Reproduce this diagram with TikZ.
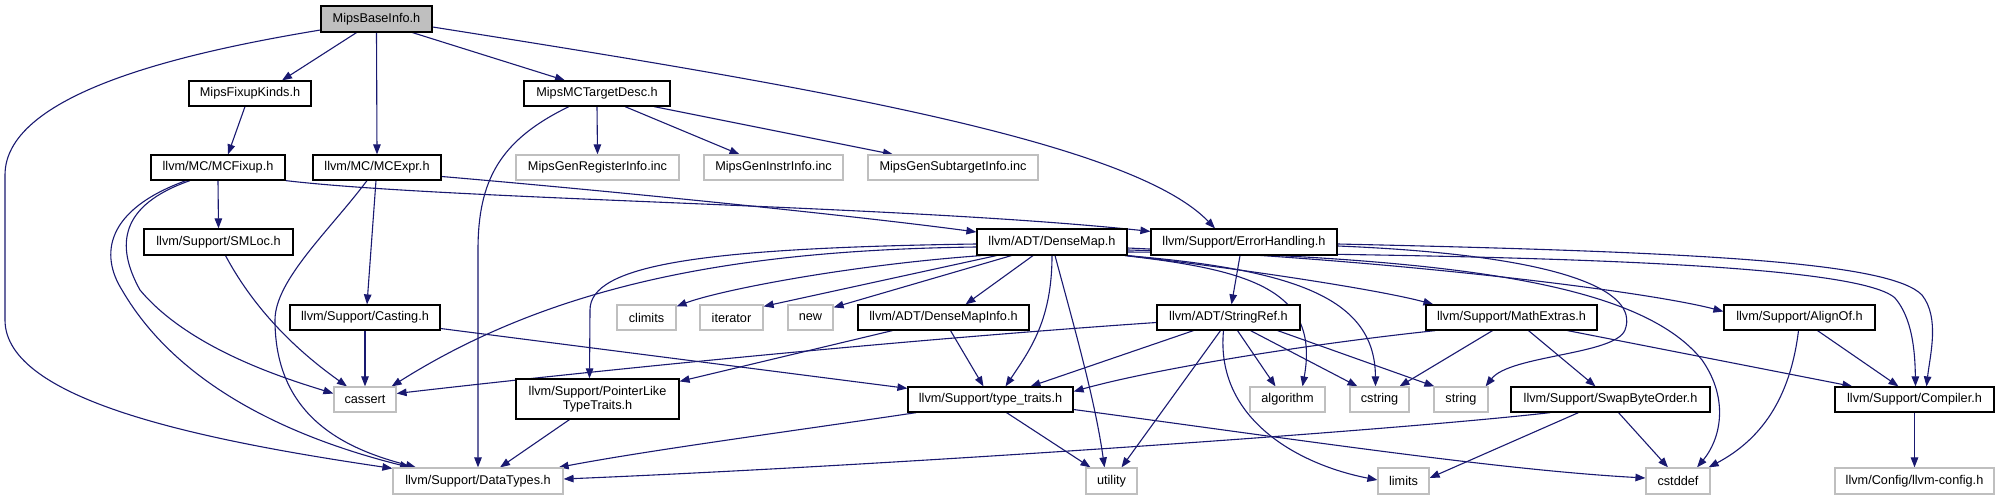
\documentclass[tikz,border=0pt]{standalone}
\usepackage{fontspec}
\setmainfont{Liberation Sans}
\usetikzlibrary{arrows.meta,calc}
\definecolor{edgec}{HTML}{191970}
\definecolor{grayb}{HTML}{BFBFBF}
\pgfdeclarelayer{edges}
\pgfsetlayers{edges,main}
\tikzset{
  nb/.style={draw=black,line width=1.2pt,fill=white,inner sep=0pt,minimum height=25pt,font=\fontsize{12.7}{14}\selectfont},
  nx/.style={nb,draw=grayb},
  nroot/.style={nb,fill=grayb,draw=black},
  e/.style={draw=edgec,line width=1.1pt,-{Triangle[length=10pt,width=7.5pt]}}
}
\begin{document}
\begin{tikzpicture}[x=1pt,y=-1pt]
\useasboundingbox (0,0) rectangle (2000,500);
% rank 0
\node[nroot,minimum width=111pt,minimum height=26pt] (base) at (376.5,19) {MipsBaseInfo.h};
% rank 1
\node[nb,minimum width=122pt] (fixk) at (250,93.5) {MipsFixupKinds.h};
\node[nb,minimum width=146pt] (mctd) at (597,93.5) {MipsMCTargetDesc.h};
% rank 2
\node[nb,minimum width=134pt] (mcfix) at (218,167.5) {llvm/MC/MCFixup.h};
\node[nb,minimum width=128pt] (mcexpr) at (377,167.5) {llvm/MC/MCExpr.h};
\node[nx,minimum width=163pt] (regi) at (597.5,167.5) {MipsGenRegisterInfo.inc};
\node[nx,minimum width=139pt] (instr) at (773.5,167.5) {MipsGenInstrInfo.inc};
\node[nx,minimum width=170pt] (subt) at (953,167.5) {MipsGenSubtargetInfo.inc};
% rank 3
\node[nb,minimum width=149pt,minimum height=26pt] (smloc) at (218.5,242) {llvm/Support/SMLoc.h};
\node[nb,minimum width=150pt,minimum height=26pt] (dmap) at (1052,242) {llvm/ADT/DenseMap.h};
\node[nb,minimum width=186pt,minimum height=26pt] (errh) at (1244,242) {llvm/Support/ErrorHandling.h};
% rank 4
\node[nb,minimum width=150pt] (cast) at (365,317.5) {llvm/Support/Casting.h};
\node[nx,minimum width=59pt] (climits) at (646.5,317.5) {climits};
\node[nx,minimum width=63pt] (iter) at (731.5,317.5) {iterator};
\node[nx,minimum width=45pt] (new) at (810.5,317.5) {new};
\node[nb,minimum width=171pt] (dmi) at (943.5,317.5) {llvm/ADT/DenseMapInfo.h};
\node[nb,minimum width=143pt] (sref) at (1228.5,317.5) {llvm/ADT/StringRef.h};
\node[nb,minimum width=171pt] (mathx) at (1511.5,317.5) {llvm/Support/MathExtras.h};
\node[nb,minimum width=151pt] (alignof) at (1799.5,317.5) {llvm/Support/AlignOf.h};
% rank 5
\node[nx,minimum width=62pt] (cassert) at (365,399.5) {cassert};
\node[nb,minimum width=163pt,minimum height=40pt,align=center] (plike) at (597.5,399) {llvm/Support/PointerLike\\TypeTraits.h};
\node[nb,minimum width=165pt] (ttraits) at (990.5,399.5) {llvm/Support/type\_traits.h};
\node[nx,minimum width=75pt] (algo) at (1287.5,399.5) {algorithm};
\node[nx,minimum width=59pt] (cstring) at (1379.5,399.5) {cstring};
\node[nx,minimum width=54pt] (string) at (1461,399.5) {string};
\node[nb,minimum width=199pt] (swap) at (1610.5,399.5) {llvm/Support/SwapByteOrder.h};
\node[nb,minimum width=159pt] (comp) at (1914.5,399.5) {llvm/Support/Compiler.h};
% rank 6
\node[nx,minimum width=170pt,minimum height=26pt] (dtypes) at (478,481) {llvm/Support/DataTypes.h};
\node[nx,minimum width=51pt,minimum height=26pt] (utility) at (1111.5,481) {utility};
\node[nx,minimum width=51pt,minimum height=26pt] (limits) at (1403.5,481) {limits};
\node[nx,minimum width=64pt,minimum height=26pt] (cstddef) at (1678,481) {cstddef};
\node[nx,minimum width=159pt,minimum height=26pt] (lconf) at (1914.5,481) {llvm/Config/llvm-config.h};

\begin{pgfonlayer}{edges}
% edges from MipsBaseInfo
\draw[e] ($(base.south)+(-20,0)$) -- ($(fixk.north)+(32,0)$);
\draw[e] (base.south) -- (mcexpr.north);
\draw[e] ($(base.south)+(36,0)$) -- ($(mctd.north)+(-32,0)$);
\draw[e] ($(base.east)+(0,8)$) .. controls (800,85) and (1130,140) .. ($(errh.north)+(-29,0)$);
\draw[e] ($(base.west)+(0,11)$) .. controls (200,50) and (5,90) .. (5,175) -- (5,320) .. controls (5,400) and (200,440) .. ($(dtypes.north west)+(0,1)$);
% MipsFixupKinds, MipsMCTargetDesc
\draw[e] ($(fixk.south)+(-5,0)$) -- ($(mcfix.north)+(10,0)$);
\draw[e] (mctd.south) -- (regi.north);
\draw[e] ($(mctd.south)+(28,0)$) -- ($(instr.north)+(-34,0)$);
\draw[e] ($(mctd.south)+(57,0)$) -- ($(subt.north)+(-60,0)$);
\draw[e] ($(mctd.south)+(-28,0)$) .. controls (500,140) and (478,180) .. (478,250) -- (dtypes.north);
% MCFixup
\draw[e] (mcfix.south) -- (smloc.north);
\draw[e] (mcfix.south east) .. controls (450,200) and (900,205) .. ($(errh.north west)+(0,3)$);
\draw[e] ($(mcfix.south)+(-28,0)$) .. controls (120,205) and (115,245) .. (140,290) .. controls (190,350) and (290,380) .. ($(cassert.west)+(0,-6)$);
\draw[e] ($(mcfix.south)+(-32,0)$) .. controls (105,210) and (100,255) .. (122,290) .. controls (180,390) and (300,440) .. ($(dtypes.north)+(-68,0)$);
\draw[e] ($(smloc.south)+(7,0)$) .. controls (260,320) and (310,360) .. ($(cassert.north)+(-18,0)$);
% MCExpr
\draw[e] ($(mcexpr.east)+(0,9)$) .. controls (600,190) and (850,215) .. ($(dmap.west)+(0,-10)$);
\draw[e] ($(mcexpr.south)+(-1,0)$) -- ($(cast.north)+(2,0)$);
\draw[e] ($(mcexpr.south)+(-10,0)$) .. controls (330,230) and (275,280) .. (275,320) .. controls (275,420) and (350,450) .. ($(dtypes.north)+(-62,0)$);
% Casting
\draw[e] (cast.south) -- (cassert.north);
\draw[e] ($(cast.east)+(0,11)$) -- ($(ttraits.north west)+(0,2)$);
% DenseMap
\draw[e] ($(dmap.south west)+(5,0)$) .. controls (850,265) and (720,290) .. ($(climits.north east)+(0,2)$);
\draw[e] ($(dmap.south west)+(20,0)$) -- ($(iter.north east)+(0,2)$);
\draw[e] ($(dmap.south west)+(35,0)$) -- ($(new.north east)+(0,3)$);
\draw[e] ($(dmap.south)+(-19,0)$) -- ($(dmi.north)+(22,0)$);
\draw[e] (dmap.south) .. controls (1052,320) and (1030,350) .. ($(ttraits.north)+(15,0)$);
\draw[e] ($(dmap.south)+(3,0)$) .. controls (1075,330) and (1095,400) .. ($(utility.north)+(-7,0)$);
\draw[e] ($(dmap.west)+(0,5)$) .. controls (750,250) and (560,280) .. ($(cassert.north east)+(-5,0)$);
\draw[e] ($(dmap.west)+(0,2)$) .. controls (700,248) and (590,265) .. (590,310) -- ($(plike.north)+(-8,0)$);
\draw[e] (dmap.south east) .. controls (1250,270) and (1380,290) .. ($(mathx.north west)+(8,0)$);
\draw[e] ($(dmap.east)+(0,6)$) .. controls (1400,260) and (1650,292) .. ($(alignof.west)+(0,-6)$);
\draw[e] ($(dmap.east)+(0,10)$) .. controls (1500,255) and (1855,262) .. (1895,298) .. controls (1912,318) and (1915,350) .. ($(comp.north)+(1,0)$);
\draw[e] ($(dmap.south east)+(-3,0)$) .. controls (1250,270) and (1320,290) .. ($(algo.north)+(15,0)$);
\draw[e] ($(dmap.south east)+(-1,0)$) .. controls (1300,270) and (1375,300) .. ($(cstring.north)+(-4,0)$);
\draw[e] ($(dmap.east)+(0,8)$) .. controls (1450,258) and (1640,282) .. (1702,360) .. controls (1730,400) and (1720,440) .. ($(cstddef.north)+(19,0)$);
% ErrorHandling
\draw[e] ($(errh.south)+(-4,0)$) -- ($(sref.north)+(3,0)$);
\draw[e] ($(errh.east)+(0,4)$) .. controls (1560,255) and (1640,290) .. (1625,330) .. controls (1615,355) and (1510,355) .. ($(string.north east)+(-3,0)$);
\draw[e] ($(errh.east)+(0,2)$) .. controls (1700,252) and (1890,262) .. (1922,295) .. controls (1940,318) and (1930,355) .. ($(comp.north)+(12,0)$);
% StringRef
\draw[e] ($(sref.south)+(-35,0)$) -- ($(ttraits.north)+(40,0)$);
\draw[e] ($(sref.west)+(0,5)$) .. controls (900,340) and (600,370) .. ($(cassert.east)+(0,-6)$);
\draw[e] ($(sref.south)+(9,0)$) -- ($(algo.north)+(-12,0)$);
\draw[e] ($(sref.south)+(22,0)$) -- ($(cstring.north)+(-22,0)$);
\draw[e] ($(sref.south)+(-5,0)$) .. controls (1215,420) and (1300,465) .. ($(limits.west)+(0,-1)$);
\draw[e] ($(sref.south)+(-8,0)$) -- ($(utility.north)+(10,0)$);
\draw[e] ($(sref.south east)+(-23,0)$) -- ($(string.north west)+(1,0)$);
% MathExtras
\draw[e] ($(mathx.south west)+(10,0)$) .. controls (1300,345) and (1150,370) .. ($(ttraits.east)+(0,-8)$);
\draw[e] ($(mathx.south)+(-19,0)$) -- ($(cstring.north)+(20,0)$);
\draw[e] ($(mathx.south)+(17,0)$) -- ($(swap.north)+(-15,0)$);
\draw[e] ($(mathx.south)+(56,0)$) -- ($(comp.north west)+(18,0)$);
% AlignOf
\draw[e] ($(alignof.south)+(-1,0)$) .. controls (1790,400) and (1760,440) .. ($(cstddef.north east)+(-2,0)$);
\draw[e] ($(alignof.south)+(18,0)$) -- ($(comp.north)+(-16,0)$);
% SwapByteOrder
\draw[e] ($(swap.south west)+(40,0)$) .. controls (1400,430) and (900,465) .. ($(dtypes.east)+(0,-2)$);
\draw[e] ($(swap.south)+(-32,0)$) -- ($(limits.east)+(0,-3)$);
\draw[e] ($(swap.south)+(8,0)$) -- ($(cstddef.north)+(-10,0)$);
% type_traits
\draw[e] ($(ttraits.south west)+(9,0)$) .. controls (800,430) and (650,450) .. ($(dtypes.north east)+(-5,0)$);
\draw[e] ($(ttraits.south)+(16,0)$) -- ($(utility.north)+(-21,0)$);
\draw[e] ($(ttraits.east)+(0,10)$) .. controls (1300,440) and (1500,470) .. ($(cstddef.west)+(0,-3)$);
% DenseMapInfo, PointerLike, Compiler
\draw[e] ($(dmi.south west)+(35,0)$) -- ($(plike.north east)+(0,3)$);
\draw[e] ($(dmi.south)+(7,0)$) -- ($(ttraits.north)+(-7,0)$);
\draw[e] ($(plike.south)+(-28,0)$) -- ($(dtypes.north)+(22,0)$);
\draw[e] (comp.south) -- (lconf.north);
\end{pgfonlayer}
\end{tikzpicture}
\end{document}
